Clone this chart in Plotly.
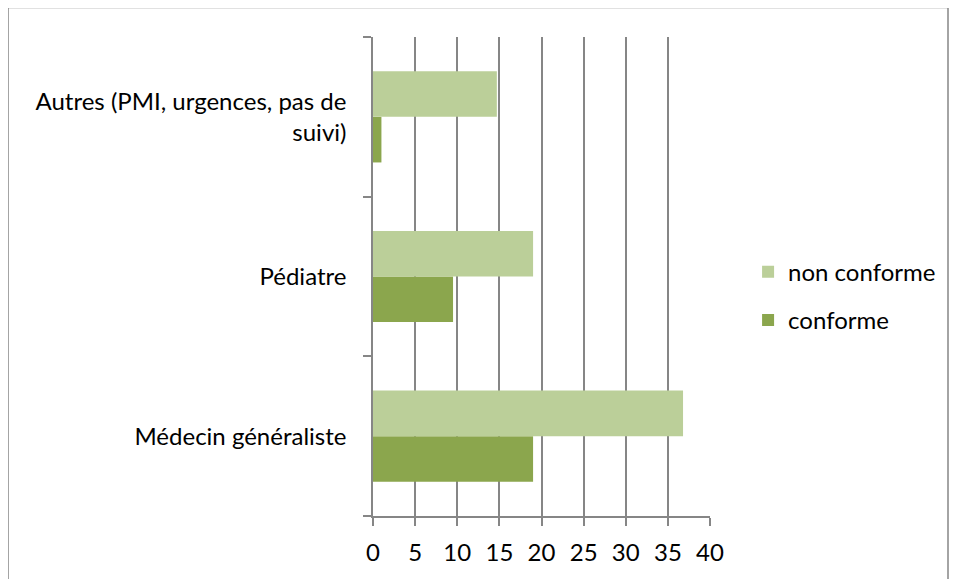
import plotly.graph_objects as go

categories = ["Médecin généraliste", "Pédiatre", "Autres (PMI, urgences, pas de<br>suivi)"]
conforme = [19, 9.5, 1]
non_conforme = [36.8, 19, 14.7]
x_ticks = [0, 5, 10, 15, 20, 25, 30, 35, 40]

FONT = "Lato, Carlito, Calibri, sans-serif"
GRID = "#868686"

# page offset of 8px (body margin) is compensated in margins
L, R, T, B = 365, 255, 29, 71

fig = go.Figure()
fig.add_trace(go.Bar(y=categories, x=conforme, orientation="h", name="conforme",
                     marker=dict(color="#8BA64D", line=dict(width=0)),
                     legendgroup="a", legendrank=2))
fig.add_trace(go.Bar(y=categories, x=non_conforme, orientation="h", name="non conforme",
                     marker=dict(color="#BBCF99", line=dict(width=0)),
                     legendgroup="b", legendrank=1))

fig.update_layout(
    width=957, height=579,
    margin=dict(l=L, r=R, t=T, b=B),
    paper_bgcolor="white", plot_bgcolor="white",
    barmode="group", bargap=0.4286, bargroupgap=0,
    font=dict(family=FONT, size=24, color="#000000"),
    legend=dict(x=1.113, y=0.459, xanchor="left", yanchor="middle",
                traceorder="grouped", tracegroupgap=14,
                font=dict(size=24), itemwidth=30),
    xaxis=dict(range=[0, 40], tickvals=x_ticks, ticktext=[str(v) for v in x_ticks],
               showgrid=True, gridcolor=GRID, gridwidth=1.5,
               showline=True, linecolor=GRID, linewidth=1.5,
               ticks="outside", ticklen=8, tickcolor=GRID, tickwidth=1.5,
               ticklabelstandoff=6, zeroline=False, fixedrange=True),
    yaxis=dict(type="category", categoryorder="array", categoryarray=categories,
               showgrid=False, showline=True, linecolor=GRID, linewidth=1.5,
               ticks="outside", ticklen=8, tickcolor=GRID, tickwidth=1.5,
               tickson="boundaries", ticklabelstandoff=20, fixedrange=True),
    shapes=[dict(type="rect", xref="paper", yref="paper",
                 x0=(8 - 373) / 337, x1=(948 - 373) / 337,
                 y0=(516 - 620) / 479, y1=(516 - 7.5) / 479,
                 line=dict(color="#868686", width=1.5), layer="below")],
)

fig.write_html("out.html")
